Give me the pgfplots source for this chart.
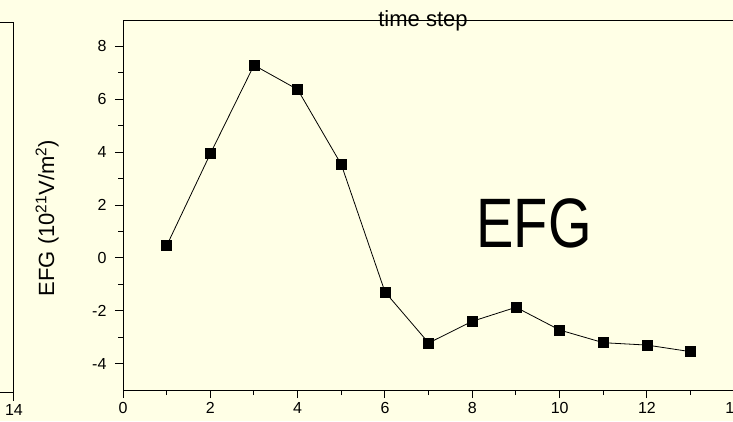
\documentclass[border=0pt]{standalone}
\usepackage{pgfplots}
\pgfplotsset{compat=1.18}
\usepackage{fontspec}
\setmainfont{Liberation Sans}
\definecolor{bg}{RGB}{255,255,230}
\begin{document}
\begin{tikzpicture}[x=1pt,y=1pt]
\fill[bg] (0,0) rectangle (733,421);
\begin{scope}
\clip (0,0) rectangle (733,421);
\pgfplotsset{every axis/.append style={
  scale only axis, xmin=0, xmax=14,
  tick align=outside, major tick length=8pt, minor tick length=5pt,
  xtick pos=bottom, ytick pos=left,
  axis line style={line width=1pt}, every tick/.style={line width=1pt, black},
  tick label style={font=\fontsize{16}{19}\selectfont},
  xticklabel style={yshift=-3pt, inner sep=1pt}, yticklabel style={xshift=-5pt},
  /pgf/number format/assume math mode=true,
  axis background/.style={fill=bg},
}}
% partial neighbouring chart on the left
\begin{axis}[at={(14pt,28.3pt)}, anchor=south east, width=611pt, height=370pt,
  ymin=-5, ymax=9, xtick={14}, ytick=\empty, minor tick num=0]
\addplot[draw=none] coordinates {(14,0)};
\end{axis}
% main chart
\begin{axis}[at={(123pt,31pt)}, anchor=south west, width=611.3pt, height=370pt,
  ymin=-5, ymax=9, xtick={0,2,...,14}, ytick={-4,-2,...,8}, minor tick num=1]
\addplot[black, line width=0.8pt, mark=square*, mark size=5pt,
  mark options={fill=black, draw=black, line width=0.5pt}] coordinates {
  (1,0.46) (2,3.94) (3,7.29) (4,6.37) (5,3.53) (6,-1.29) (7,-3.22)
  (8,-2.40) (9,-1.87) (10,-2.73) (11,-3.21) (12,-3.30) (13,-3.55)};
\end{axis}
\node[anchor=base, inner sep=0pt, font=\fontsize{22}{26}\selectfont] at (423,394) {time step};
\node[anchor=base, inner sep=0pt, rotate=90, font=\fontsize{22}{26}\selectfont] at (54,203) {EFG (10\textsuperscript{21}V/m\textsuperscript{2})};
\node[anchor=base, inner sep=0pt, font=\fontsize{70}{80}\selectfont] at (534,174) {\scalebox{0.8}[1]{EFG}};
\end{scope}
\pgfresetboundingbox
\useasboundingbox (0,0) rectangle (733,421);
\end{tikzpicture}
\end{document}
